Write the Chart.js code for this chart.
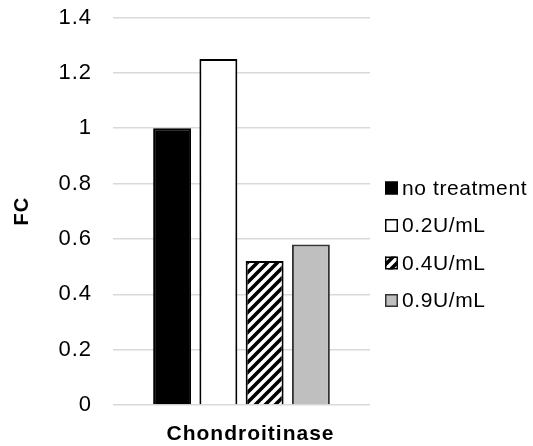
<!DOCTYPE html>
<html>
<head>
<meta charset="utf-8">
<title>FC - Chondroitinase</title>
<script src="https://cdn.jsdelivr.net/npm/chart.js@4/dist/chart.umd.min.js"></script>
<style>
  html, body { margin: 0; padding: 0; background: #fff; }
  #chart-wrap { width: 533px; height: 446px; }
</style>
</head>
<body>
<div id="chart-wrap"><canvas id="fc-chart" width="533" height="446"></canvas></div>
<script>
// Chart data
const categories = ['Chondroitinase'];
const seriesNames = ['no treatment', '0.2U/mL', '0.4U/mL', '0.9U/mL'];
const noTreatment = [1.0];
const dose02 = [1.25];
const dose04 = [0.52];
const dose09 = [0.58];
const yTicks = [0, 0.2, 0.4, 0.6, 0.8, 1, 1.2, 1.4];

const FONT = "'Liberation Sans', Arial, sans-serif";
const SPACING = '1px';

// Diagonal hatch used for the 0.4U/mL bar
function makeHatch() {
  const size = 10;
  const c = document.createElement('canvas');
  c.width = size;
  c.height = size;
  const g = c.getContext('2d');
  g.fillStyle = '#fff';
  g.fillRect(0, 0, size, size);
  g.strokeStyle = '#000';
  g.lineWidth = 3.6;
  g.beginPath();
  g.moveTo(-size, size * 2); g.lineTo(size * 2, -size);
  g.moveTo(-size, size); g.lineTo(size, -size);
  g.moveTo(0, size * 2); g.lineTo(size * 2, 0);
  g.stroke();
  return g.createPattern(c, 'repeat');
}

// Reference text is a bit wide, so widen glyph spacing (state is lost on canvas resize)
const letterSpacingPlugin = {
  id: 'letterSpacing',
  beforeUpdate(chart) { chart.ctx.letterSpacing = SPACING; },
  beforeDraw(chart) { chart.ctx.letterSpacing = SPACING; }
};

// Legend column to the right of the plot, Excel style
const sideLegend = {
  id: 'sideLegend',
  afterDraw(chart) {
    const { ctx, chartArea } = chart;
    const x = chartArea.right + 15;
    ctx.save();
    ctx.font = '21px ' + FONT;
    ctx.letterSpacing = '0.6px';
    ctx.textBaseline = 'middle';
    chart.data.datasets.forEach((ds, i) => {
      const y = 188 + i * 37.5;
      ctx.fillStyle = ds.backgroundColor;
      ctx.fillRect(x, y - 6.5, 13, 13);
      ctx.lineWidth = 1.5;
      ctx.strokeStyle = ds.borderColor;
      ctx.strokeRect(x + 0.75, y - 5.75, 11.5, 11.5);
      ctx.fillStyle = '#000';
      ctx.fillText(ds.label, x + 17, y + 1);
    });
    ctx.restore();
  }
};

document.addEventListener('DOMContentLoaded', () => {
  const ctx = document.getElementById('fc-chart').getContext('2d');
  const hatch = makeHatch();

  new Chart(ctx, {
    type: 'bar',
    data: {
      labels: categories,
      datasets: [
        { label: seriesNames[0], data: noTreatment, backgroundColor: '#000', borderColor: '#000', borderWidth: 2 },
        { label: seriesNames[1], data: dose02, backgroundColor: '#fff', borderColor: '#000', borderWidth: 2 },
        { label: seriesNames[2], data: dose04, backgroundColor: hatch, borderColor: '#000', borderWidth: 2 },
        { label: seriesNames[3], data: dose09, backgroundColor: '#bfbfbf', borderColor: '#333', borderWidth: 2 }
      ]
    },
    plugins: [letterSpacingPlugin, sideLegend],
    options: {
      responsive: false,
      animation: false,
      layout: { padding: { left: 0, top: 17.5, right: 163, bottom: 0 } },
      categoryPercentage: 0.72,
      barPercentage: 0.82,
      scales: {
        x: {
          grid: { display: false },
          border: { display: false },
          ticks: {
            color: '#000',
            font: { family: FONT, size: 21, weight: 'bold' },
            padding: 9,
            labelOffset: 9
          },
          afterFit: (scale) => { scale.height = 41; }
        },
        y: {
          min: 0,
          max: 1.4,
          afterBuildTicks: (axis) => { axis.ticks = yTicks.map(v => ({ value: v })); },
          grid: { color: '#d9d9d9', lineWidth: 1.5, drawTicks: false },
          border: { display: false },
          ticks: {
            color: '#000',
            font: { family: FONT, size: 22 },
            padding: 21,
            callback: (value) => String(value)
          },
          title: {
            display: true,
            text: 'FC',
            color: '#000',
            font: { family: FONT, size: 20, weight: 'bold' },
            padding: { top: 10, bottom: 0 }
          },
          afterFit: (scale) => {
            scale.width = 113;
            scale.paddingTop = 0;
            scale.paddingBottom = 0;
          }
        }
      },
      plugins: {
        legend: { display: false },
        tooltip: { enabled: false }
      }
    }
  });
});
</script>
</body>
</html>
